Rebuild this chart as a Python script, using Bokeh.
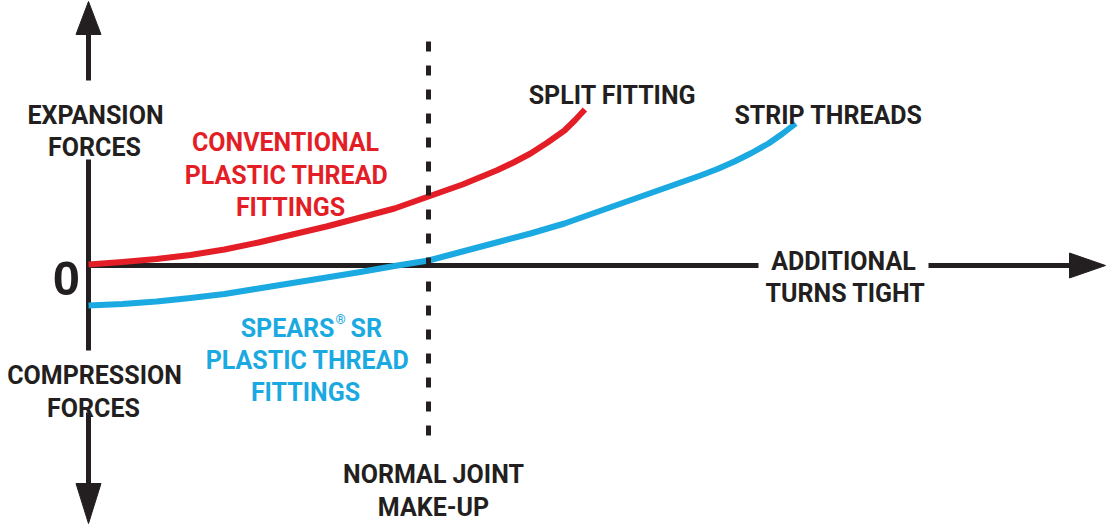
from bokeh.plotting import figure
from bokeh.models import Range1d
from bokeh.core.properties import value
from bokeh.embed import file_html
from bokeh.resources import INLINE

# ---------------- data (turns tight vs. force, arbitrary units) ----------------
red_turns = [0, 1, 2, 3, 4, 5, 6, 7, 8, 9, 10, 11, 12, 12.5, 13, 13.5, 14, 14.3, 14.6]
red_force = [0.1, 0.35, 0.65, 1.05, 1.6, 2.3, 3.1, 3.9, 4.8, 5.7, 6.9, 8.1, 9.5, 10.3,
             11.2, 12.3, 13.5, 14.5, 15.6]

blue_turns = [0, 1, 2, 3, 4, 5, 6, 7, 8, 9, 10, 11, 12, 13, 14, 15, 16, 17, 18, 18.5,
              19, 19.5, 20, 20.4, 20.8]
blue_force = [-4.0, -3.85, -3.6, -3.25, -2.85, -2.3, -1.75, -1.2, -0.65, -0.05, 0.5, 1.4,
              2.3, 3.2, 4.2, 5.4, 6.6, 7.8, 9.0, 9.65, 10.4, 11.25, 12.2, 13.15, 14.2]

normal_joint_turns = 10

red_label = ["CONVENTIONAL", "PLASTIC THREAD", "FITTINGS"]
blue_label = ["PLASTIC THREAD", "FITTINGS"]

# ---------------- styling ----------------
RED = "#E31E26"
BLUE = "#1BA9E1"
INK = "#231F20"
FONT = value("Roboto")
FS = "25px"

W, H = 1106, 531
OFF = 0                # page offset of the canvas
X0, Y0 = 88, 265       # where the origin sits on the page
SX, SY = 34.0, 10.0    # pixels per unit


def X(px):
    return (px - X0) / SX


def Y(py):
    return (Y0 - py) / SY


p = figure(width=W, height=H,
           x_range=Range1d(X(OFF), X(OFF + W)), y_range=Range1d(Y(OFF + H), Y(OFF)),
           output_backend="svg", toolbar_location=None, min_border=0,
           x_axis_location=None, y_axis_location=None)
p.grid.visible = False
p.outline_line_color = None
p.background_fill_color = "white"
p.border_fill_color = "white"

# ---- axes drawn as arrows (with gaps for the labels) ----
p.segment(x0=[0, 0, 0], y0=[Y(33), Y(159), Y(412)],
          x1=[0, 0, 0], y1=[Y(80), Y(350), Y(484)],
          line_width=5, line_color=INK)
p.segment(x0=[X(86), X(928)], y0=[0, 0], x1=[X(758), X(1070)], y1=[0, 0],
          line_width=5, line_color=INK)
hw_x = 12.5 / SX
hw_y = 12.5 / SY
p.patches(xs=[[-hw_x, 0, hw_x], [-hw_x, 0, hw_x], [X(1069), X(1105), X(1069)]],
          ys=[[Y(34), Y(1), Y(34)], [Y(483), Y(523), Y(483)], [hw_y, 0, -hw_y]],
          fill_color=INK, line_color=INK, line_width=1)

# ---- curves ----
p.line(red_turns, red_force, line_width=6, line_color=RED, line_join="round")
p.line(blue_turns, blue_force, line_width=6, line_color=BLUE, line_join="round")

# ---- normal joint make-up marker ----
p.line([normal_joint_turns, normal_joint_turns], [Y(41), Y(438)],
       line_width=5, line_color=INK, line_dash="10 14")

# ---- texts ----
common = dict(text_font=FONT, text_font_style="bold", text_baseline="alphabetic")

blk = [("EXPANSION", 95, 115), ("FORCES", 94, 147),
       ("COMPRESSION", 94, 375), ("FORCES", 93, 408),
       ("SPLIT FITTING", 612, 95), ("STRIP THREADS", 828, 115),
       ("ADDITIONAL", 843, 261), ("TURNS TIGHT", 845, 293),
       ("NORMAL JOINT", 433, 474), ("MAKE-UP", 433, 507)]
p.text(x=[X(b[1]) for b in blk], y=[Y(b[2]) for b in blk], text=[b[0] for b in blk],
       text_color=INK, text_font_size=FS, text_align="center", **common)

p.text(x=[X(285), X(286), X(290)], y=[Y(142), Y(175), Y(207)], text=red_label,
       text_color=RED, text_font_size=FS, text_align="center", **common)

p.text(x=[X(307), X(305)], y=[Y(360), Y(392)], text=blue_label,
       text_color=BLUE, text_font_size=FS, text_align="center", **common)
p.text(x=[X(334)], y=[Y(328)], text=["SPEARS"],
       text_color=BLUE, text_font_size=FS, text_align="right", **common)
p.text(x=[X(350)], y=[Y(328)], text=["SR"],
       text_color=BLUE, text_font_size=FS, text_align="left", **common)
p.text(x=[X(335)], y=[Y(319)], text=["\u00ae"],
       text_color=BLUE, text_font_size="13px", text_align="left", **common)

p.text(x=[X(66)], y=[Y(278)], text=["0"], text_color=INK, text_font_size="49px",
       text_align="center", text_baseline="alphabetic",
       text_font=value("Liberation Sans"), text_font_style="bold")

open("out.html", "w").write(file_html(p, INLINE))
